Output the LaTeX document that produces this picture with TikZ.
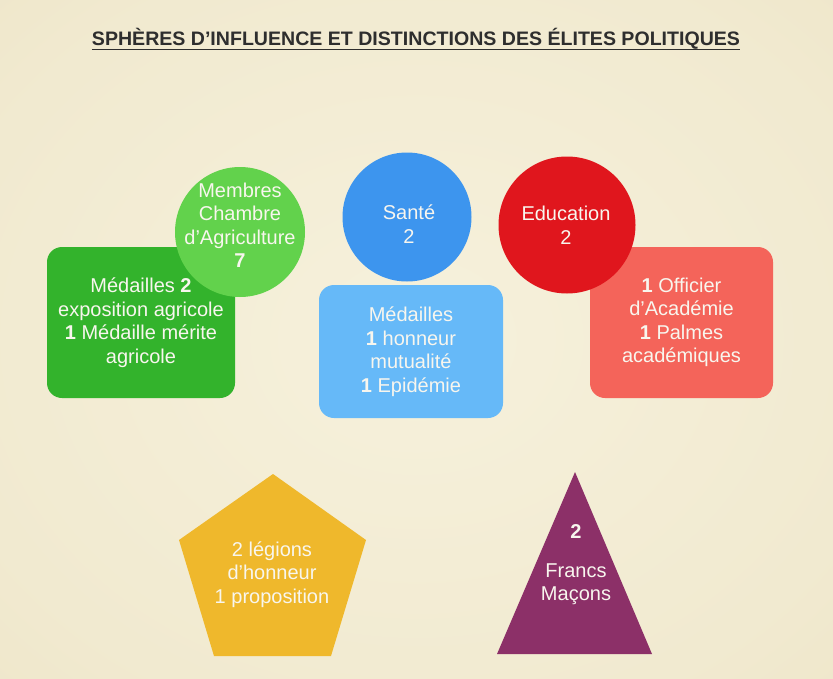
\documentclass[tikz,border=0pt]{standalone}
\usepackage{fontspec}
\setmainfont{Liberation Sans}
\usepackage{graphicx}
\definecolor{bgin}{HTML}{F6F1DC}
\definecolor{bgout}{HTML}{E5D8B2}
\definecolor{titlec}{HTML}{2E2E2E}
\definecolor{greenc}{HTML}{62D24C}
\definecolor{greenr}{HTML}{33B32C}
\definecolor{bluec}{HTML}{3D95EE}
\definecolor{bluer}{HTML}{66B9F8}
\definecolor{redc}{HTML}{E0161D}
\definecolor{redr}{HTML}{F4645A}
\definecolor{yellowp}{HTML}{EFB82C}
\definecolor{purplet}{HTML}{8C3068}
\definecolor{txt}{HTML}{F8F6EE}
\pgfdeclareradialshading{bgshade}{\pgfpoint{0bp}{0bp}}{color(0bp)=(bgin); color(30bp)=(bgin!70!bgout); color(72bp)=(bgout)}
\tikzset{
  lbl/.style={text=txt, align=center, font=\fontsize{20}{23.5}\selectfont, inner sep=0pt},
  rbox/.style={rectangle, rounded corners=15pt, inner sep=0pt},
  disc/.style={circle, inner sep=0pt},
}
\begin{document}
\begin{tikzpicture}[x=1pt,y=-1pt]
\useasboundingbox (0,0) rectangle (833,678);
\shade[shading=bgshade] (0,0) rectangle (833,678);
% title
\node[anchor=base, text=titlec, inner sep=0pt] (title) at (416,45.5)
  {\resizebox{648pt}{\height}{\fontsize{19.5}{21}\selectfont\bfseries SPHÈRES D’INFLUENCE ET DISTINCTIONS DES ÉLITES POLITIQUES}};
\draw[titlec, line width=1.6pt] ([yshift=-4pt]title.base west) -- ([yshift=-4pt]title.base east);
% green
\node[rbox, fill=greenr, minimum width=188pt, minimum height=151pt] (agrbox) at (141,322.5) {};
\node[disc, fill=greenc, minimum size=130pt] (agrcirc) at (240,232) {};
\node[lbl] (agrtext) at (agrbox.center) {Médailles \textbf{2}\\exposition agricole\\\textbf{1} Médaille mérite\\agricole};
\node[lbl] (agrctext) at (240,225) {Membres\\Chambre\\d’Agriculture\\\textbf{7}};
% blue
\node[rbox, fill=bluer, minimum width=184pt, minimum height=133pt] (sanbox) at (411,351.5) {};
\node[disc, fill=bluec, minimum size=129pt] (sancirc) at (407,217) {};
\node[lbl] (santext) at (sanbox.center) {Médailles\\\textbf{1} honneur\\mutualité\\\textbf{1} Epidémie};
\node[lbl] (sanctext) at (409,224) {Santé\\2};
% red
\node[rbox, fill=redr, minimum width=183pt, minimum height=151pt] (edubox) at (681.5,322.5) {};
\node[disc, fill=redc, minimum size=137pt] (educirc) at (567,225) {};
\node[lbl] (edutext) at (edubox.center) {\textbf{1} Officier\\d’Académie\\\textbf{1} Palmes\\académiques};
\node[lbl] (eductext) at (566,225) {Education\\2};
% pentagon
\fill[yellowp] (273,474) -- (366,540) -- (331,656) -- (214,656) -- (179,540) -- cycle;
\node[lbl] (legtext) at (272,574.5) {2 légions\\d’honneur\\1 proposition};
% triangle
\fill[purplet] (575,472) -- (652,654) -- (497,654) -- cycle;
\node[lbl] (fmnum) at (576,532) {\textbf{2}};
\node[lbl] (fmtext) at (576,584) {Francs\\Maçons};
\end{tikzpicture}
\end{document}
